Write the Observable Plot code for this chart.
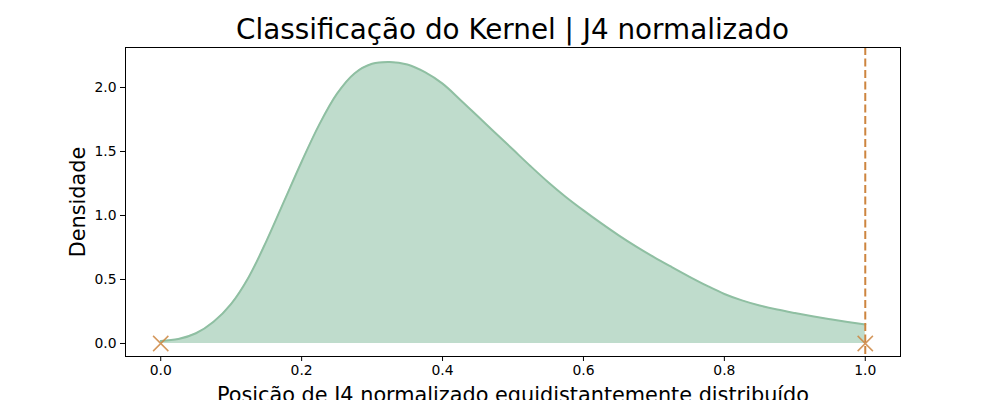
<!DOCTYPE html>
<html>
<head>
<meta charset="utf-8">
<script src="https://cdn.jsdelivr.net/npm/d3@7"></script>
<script src="https://cdn.jsdelivr.net/npm/@observablehq/plot@0.6"></script>
<style>
  html, body { margin: 0; padding: 0; background: #fff; overflow: hidden; }
  body { width: 1000px; height: 400px; font-family: "DejaVu Sans", sans-serif; }
  #title { box-sizing: border-box; width: 1000px; height: 47px; padding-top: 16px; padding-left: 25px; line-height: 28px; font-size: 27.8px; text-align: center; color: #000; white-space: nowrap; }
</style>
</head>
<body>
<div id="title"></div>
<div id="chart"></div>
<script>
const titleText = "Classificação do Kernel | J4 normalizado";
const xLabel = "Posição de J4 normalizado equidistantemente distribuído";
const yLabel = "Densidade";

const positions = [0, 0.025, 0.05, 0.075, 0.1, 0.125, 0.15, 0.175, 0.2, 0.225, 0.25, 0.275, 0.3, 0.325, 0.35, 0.375, 0.4, 0.425, 0.45, 0.475, 0.5, 0.525, 0.55, 0.575, 0.6, 0.625, 0.65, 0.675, 0.7, 0.725, 0.75, 0.775, 0.8, 0.825, 0.85, 0.875, 0.9, 0.925, 0.95, 0.975, 1.0];
const density = [0.02, 0.035, 0.08, 0.17, 0.31, 0.52, 0.80, 1.11, 1.42, 1.71, 1.95, 2.11, 2.185, 2.20, 2.18, 2.12, 2.03, 1.905, 1.775, 1.645, 1.515, 1.385, 1.26, 1.145, 1.04, 0.94, 0.845, 0.757, 0.675, 0.598, 0.523, 0.452, 0.387, 0.337, 0.297, 0.265, 0.238, 0.213, 0.19, 0.168, 0.148];

const markerX = [0, 1];
const markerY = [0, 0];
const limitX = [1];

const xTicks = [0, 0.2, 0.4, 0.6, 0.8, 1.0];
const yTicks = [0, 0.5, 1.0, 1.5, 2.0];

const curve = positions.map((p, i) => ({x: p, y: density[i]}));
const markers = markerX.map((p, i) => ({x: p, y: markerY[i]}));

document.getElementById("title").textContent = titleText;

const fmt = d3.format(".1f");
const chart = Plot.plot({
  width: 1000,
  height: 353,
  marginLeft: 125,
  marginRight: 100,
  marginTop: 0,
  marginBottom: 44,
  style: {fontFamily: "DejaVu Sans, sans-serif", fontSize: "13.9px", color: "#000", background: "#fff", overflow: "visible"},
  x: {domain: [-0.05, 1.05], ticks: xTicks, tickFormat: fmt, label: null},
  y: {domain: [-0.1016, 2.3125], ticks: yTicks, tickFormat: fmt, label: null},
  marks: [
    Plot.areaY(curve, {x: "x", y: "y", fill: "#bfdccc", curve: "catmull-rom"}),
    Plot.lineY(curve, {x: "x", y: "y", stroke: "#8fbfa2", strokeWidth: 2, curve: "catmull-rom"}),
    Plot.ruleX(limitX, {stroke: "#cd853f", strokeWidth: 2, strokeDasharray: "8,3.5"}),
    Plot.dot(markers, {x: "x", y: "y", symbol: "times", r: 7, stroke: "#cd853f", strokeWidth: 1.5, strokeOpacity: 0.85}),
    Plot.frame({stroke: "#000", strokeWidth: 1}),
    Plot.axisX({ticks: xTicks, tickFormat: fmt, tickSize: 5, tickPadding: 4, label: null}),
    Plot.axisY({ticks: yTicks, tickFormat: fmt, tickSize: 5, tickPadding: 4, label: null}),
    Plot.text([xLabel], {frameAnchor: "bottom", dy: 39, lineAnchor: "middle", textAnchor: "middle", fontSize: 20.8, fill: "#000"}),
    Plot.text([yLabel], {frameAnchor: "left", dx: -47, rotate: -90, lineAnchor: "middle", textAnchor: "middle", fontSize: 20.8, fill: "#000"})
  ]
});
document.getElementById("chart").appendChild(chart);
</script>
</body>
</html>
